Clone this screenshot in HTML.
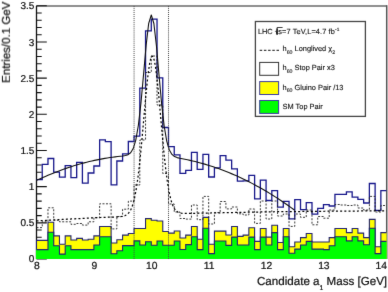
<!DOCTYPE html>
<html><head><meta charset="utf-8"><style>
html,body{margin:0;padding:0;background:#fff;width:388px;height:292px;overflow:hidden}
svg{display:block;text-rendering:geometricPrecision;will-change:transform}
</style></head><body>
<svg width="388" height="292" viewBox="0 0 388 292">
<defs><filter id="bl" x="0" y="0" width="1" height="1" color-interpolation-filters="sRGB"><feConvolveMatrix order="3" kernelMatrix="0.00524 0.06192 0.00524 0.06192 0.73137 0.06192 0.00524 0.06192 0.00524" edgeMode="duplicate" preserveAlpha="true"/></filter><clipPath id="fr"><rect x="35.8" y="5.8" width="350.80" height="253.20"/></clipPath></defs>
<g filter="url(#bl)"><rect width="388" height="292" fill="#fff"/>
<path d="M36.5,5.9 H386.70" fill="none" stroke="#6a6a6a" stroke-width="1.5"/>
<path d="M386.70,5.2 V259.0" fill="none" stroke="#555" stroke-width="1.5"/>
<path d="M36.5,259.0 V5.8" stroke="#111" stroke-width="1.3"/>
<path d="M36.50,259.00 H46.80 M36.50,251.77 H41.70 M36.50,244.53 H41.70 M36.50,237.30 H41.70 M36.50,230.06 H41.70 M36.50,222.83 H46.80 M36.50,215.60 H41.70 M36.50,208.36 H41.70 M36.50,201.13 H41.70 M36.50,193.89 H41.70 M36.50,186.66 H46.80 M36.50,179.43 H41.70 M36.50,172.19 H41.70 M36.50,164.96 H41.70 M36.50,157.72 H41.70 M36.50,150.49 H46.80 M36.50,143.26 H41.70 M36.50,136.02 H41.70 M36.50,128.79 H41.70 M36.50,121.55 H41.70 M36.50,114.32 H46.80 M36.50,107.09 H41.70 M36.50,99.85 H41.70 M36.50,92.62 H41.70 M36.50,85.38 H41.70 M36.50,78.15 H46.80 M36.50,70.92 H41.70 M36.50,63.68 H41.70 M36.50,56.45 H41.70 M36.50,49.21 H41.70 M36.50,41.98 H46.80 M36.50,34.75 H41.70 M36.50,27.51 H41.70 M36.50,20.28 H41.70 M36.50,13.04 H41.70 M36.50,5.81 H46.80" stroke="#111" stroke-width="1.1"/>
<g clip-path="url(#fr)">
<path d="M36.50,179.60 L42.24,179.60 L42.24,164.40 L47.98,164.40 L47.98,158.50 L53.72,158.50 L53.72,172.20 L59.46,172.20 L59.46,177.10 L65.20,177.10 L65.20,165.60 L70.94,165.60 L70.94,177.60 L76.68,177.60 L76.68,162.30 L82.41,162.30 L82.41,183.20 L88.15,183.20 L88.15,173.00 L93.89,173.00 L93.89,166.00 L99.63,166.00 L99.63,139.90 L105.37,139.90 L105.37,141.60 L111.11,141.60 L111.11,184.90 L116.85,184.90 L116.85,161.00 L122.59,161.00 L122.59,153.90 L128.33,153.90 L128.33,141.50 L134.07,141.50 L134.07,136.10 L139.81,136.10 L139.81,88.10 L145.55,88.10 L145.55,30.80 L151.29,30.80 L151.29,19.10 L157.03,19.10 L157.03,77.90 L162.77,77.90 L162.77,127.50 L168.50,127.50 L168.50,146.60 L174.24,146.60 L174.24,154.80 L179.98,154.80 L179.98,173.30 L185.72,173.30 L185.72,170.40 L191.46,170.40 L191.46,152.30 L197.20,152.30 L197.20,169.30 L202.94,169.30 L202.94,154.40 L208.68,154.40 L208.68,177.00 L214.42,177.00 L214.42,167.80 L220.16,167.80 L220.16,155.60 L225.90,155.60 L225.90,160.20 L231.64,160.20 L231.64,168.80 L237.38,168.80 L237.38,181.20 L243.12,181.20 L243.12,180.90 L248.86,180.90 L248.86,175.30 L254.60,175.30 L254.60,198.90 L260.33,198.90 L260.33,180.20 L266.07,180.20 L266.07,200.50 L271.81,200.50 L271.81,190.60 L277.55,190.60 L277.55,207.10 L283.29,207.10 L283.29,201.40 L289.03,201.40 L289.03,218.80 L294.77,218.80 L294.77,199.70 L300.51,199.70 L300.51,209.60 L306.25,209.60 L306.25,202.70 L311.99,202.70 L311.99,214.20 L317.73,214.20 L317.73,208.30 L323.47,208.30 L323.47,204.70 L329.21,204.70 L329.21,206.00 L334.95,206.00 L334.95,194.40 L340.69,194.40 L340.69,194.40 L346.42,194.40 L346.42,191.80 L352.16,191.80 L352.16,197.20 L357.90,197.20 L357.90,199.40 L363.64,199.40 L363.64,203.00 L369.38,203.00 L369.38,183.50 L375.12,183.50 L375.12,210.40 L380.86,210.40 L380.86,190.60 L386.60,190.60" fill="none" stroke="#16168a" stroke-width="1.3"/>
<path d="M36.50,260.00 L36.50,240.40 L42.24,240.40 L42.24,240.40 L47.98,240.40 L47.98,222.20 L53.72,222.20 L53.72,235.90 L59.46,235.90 L59.46,244.20 L65.20,244.20 L65.20,235.90 L70.94,235.90 L70.94,240.00 L76.68,240.00 L76.68,238.40 L82.41,238.40 L82.41,240.00 L88.15,240.00 L88.15,239.20 L93.89,239.20 L93.89,235.90 L99.63,235.90 L99.63,226.50 L105.37,226.50 L105.37,226.50 L111.11,226.50 L111.11,243.00 L116.85,243.00 L116.85,239.70 L122.59,239.70 L122.59,235.10 L128.33,235.10 L128.33,233.50 L134.07,233.50 L134.07,228.50 L139.81,228.50 L139.81,228.50 L145.55,228.50 L145.55,218.60 L151.29,218.60 L151.29,220.30 L157.03,220.30 L157.03,221.00 L162.77,221.00 L162.77,231.50 L168.50,231.50 L168.50,233.10 L174.24,233.10 L174.24,231.00 L179.98,231.00 L179.98,238.00 L185.72,238.00 L185.72,235.10 L191.46,235.10 L191.46,226.50 L197.20,226.50 L197.20,239.20 L202.94,239.20 L202.94,217.40 L208.68,217.40 L208.68,244.20 L214.42,244.20 L214.42,231.10 L220.16,231.10 L220.16,231.10 L225.90,231.10 L225.90,235.00 L231.64,235.00 L231.64,226.50 L237.38,226.50 L237.38,236.40 L243.12,236.40 L243.12,235.10 L248.86,235.10 L248.86,227.70 L254.60,227.70 L254.60,241.40 L260.33,241.40 L260.33,228.50 L266.07,228.50 L266.07,237.10 L271.81,237.10 L271.81,225.20 L277.55,225.20 L277.55,242.50 L283.29,242.50 L283.29,228.50 L289.03,228.50 L289.03,246.70 L294.77,246.70 L294.77,242.00 L300.51,242.00 L300.51,237.60 L306.25,237.60 L306.25,233.50 L311.99,233.50 L311.99,242.00 L317.73,242.00 L317.73,242.00 L323.47,242.00 L323.47,242.00 L329.21,242.00 L329.21,237.60 L334.95,237.60 L334.95,228.50 L340.69,228.50 L340.69,228.50 L346.42,228.50 L346.42,232.60 L352.16,232.60 L352.16,228.50 L357.90,228.50 L357.90,233.10 L363.64,233.10 L363.64,237.60 L369.38,237.60 L369.38,219.40 L375.12,219.40 L375.12,246.70 L380.86,246.70 L380.86,232.60 L386.60,232.60 L387.60,232.60 L387.60,260.00 Z" fill="#ffff00"/>
<path d="M36.5,259.0 L36.50,240.40 L42.24,240.40 L42.24,240.40 L47.98,240.40 L47.98,222.20 L53.72,222.20 L53.72,235.90 L59.46,235.90 L59.46,244.20 L65.20,244.20 L65.20,235.90 L70.94,235.90 L70.94,240.00 L76.68,240.00 L76.68,238.40 L82.41,238.40 L82.41,240.00 L88.15,240.00 L88.15,239.20 L93.89,239.20 L93.89,235.90 L99.63,235.90 L99.63,226.50 L105.37,226.50 L105.37,226.50 L111.11,226.50 L111.11,243.00 L116.85,243.00 L116.85,239.70 L122.59,239.70 L122.59,235.10 L128.33,235.10 L128.33,233.50 L134.07,233.50 L134.07,228.50 L139.81,228.50 L139.81,228.50 L145.55,228.50 L145.55,218.60 L151.29,218.60 L151.29,220.30 L157.03,220.30 L157.03,221.00 L162.77,221.00 L162.77,231.50 L168.50,231.50 L168.50,233.10 L174.24,233.10 L174.24,231.00 L179.98,231.00 L179.98,238.00 L185.72,238.00 L185.72,235.10 L191.46,235.10 L191.46,226.50 L197.20,226.50 L197.20,239.20 L202.94,239.20 L202.94,217.40 L208.68,217.40 L208.68,244.20 L214.42,244.20 L214.42,231.10 L220.16,231.10 L220.16,231.10 L225.90,231.10 L225.90,235.00 L231.64,235.00 L231.64,226.50 L237.38,226.50 L237.38,236.40 L243.12,236.40 L243.12,235.10 L248.86,235.10 L248.86,227.70 L254.60,227.70 L254.60,241.40 L260.33,241.40 L260.33,228.50 L266.07,228.50 L266.07,237.10 L271.81,237.10 L271.81,225.20 L277.55,225.20 L277.55,242.50 L283.29,242.50 L283.29,228.50 L289.03,228.50 L289.03,246.70 L294.77,246.70 L294.77,242.00 L300.51,242.00 L300.51,237.60 L306.25,237.60 L306.25,233.50 L311.99,233.50 L311.99,242.00 L317.73,242.00 L317.73,242.00 L323.47,242.00 L323.47,242.00 L329.21,242.00 L329.21,237.60 L334.95,237.60 L334.95,228.50 L340.69,228.50 L340.69,228.50 L346.42,228.50 L346.42,232.60 L352.16,232.60 L352.16,228.50 L357.90,228.50 L357.90,233.10 L363.64,233.10 L363.64,237.60 L369.38,237.60 L369.38,219.40 L375.12,219.40 L375.12,246.70 L380.86,246.70 L380.86,232.60 L386.60,232.60" fill="none" stroke="#22226e" stroke-width="1.1"/>
<path d="M35.80,260.00 L35.80,249.60 L42.24,249.60 L42.24,249.60 L47.98,249.60 L47.98,232.20 L53.72,232.20 L53.72,245.80 L59.46,245.80 L59.46,254.10 L65.20,254.10 L65.20,245.80 L70.94,245.80 L70.94,249.60 L76.68,249.60 L76.68,249.60 L82.41,249.60 L82.41,249.60 L88.15,249.60 L88.15,249.60 L93.89,249.60 L93.89,245.00 L99.63,245.00 L99.63,236.80 L105.37,236.80 L105.37,236.80 L111.11,236.80 L111.11,253.70 L116.85,253.70 L116.85,250.80 L122.59,250.80 L122.59,245.60 L128.33,245.60 L128.33,245.60 L134.07,245.60 L134.07,240.90 L139.81,240.90 L139.81,245.00 L145.55,245.00 L145.55,241.70 L151.29,241.70 L151.29,245.20 L157.03,245.20 L157.03,241.00 L162.77,241.00 L162.77,245.20 L168.50,245.20 L168.50,245.20 L174.24,245.20 L174.24,241.00 L179.98,241.00 L179.98,249.50 L185.72,249.50 L185.72,244.60 L191.46,244.60 L191.46,236.80 L197.20,236.80 L197.20,249.60 L202.94,249.60 L202.94,228.20 L208.68,228.20 L208.68,253.60 L214.42,253.60 L214.42,241.00 L220.16,241.00 L220.16,241.00 L225.90,241.00 L225.90,245.40 L231.64,245.40 L231.64,237.10 L237.38,237.10 L237.38,245.00 L243.12,245.00 L243.12,245.00 L248.86,245.00 L248.86,237.10 L254.60,237.10 L254.60,249.60 L260.33,249.60 L260.33,237.10 L266.07,237.10 L266.07,245.00 L271.81,245.00 L271.81,232.60 L277.55,232.60 L277.55,249.60 L283.29,249.60 L283.29,236.80 L289.03,236.80 L289.03,253.30 L294.77,253.30 L294.77,249.10 L300.51,249.10 L300.51,245.00 L306.25,245.00 L306.25,241.40 L311.99,241.40 L311.99,249.10 L317.73,249.10 L317.73,249.10 L323.47,249.10 L323.47,249.60 L329.21,249.60 L329.21,245.80 L334.95,245.80 L334.95,236.80 L340.69,236.80 L340.69,236.80 L346.42,236.80 L346.42,240.90 L352.16,240.90 L352.16,236.80 L357.90,236.80 L357.90,240.90 L363.64,240.90 L363.64,244.70 L369.38,244.70 L369.38,228.20 L375.12,228.20 L375.12,253.60 L380.86,253.60 L380.86,241.40 L386.60,241.40 L387.60,241.40 L387.60,260.00 Z" fill="#00ff00"/>
<path d="M36.50,249.60 L42.24,249.60 L42.24,249.60 L47.98,249.60 L47.98,232.20 L53.72,232.20 L53.72,245.80 L59.46,245.80 L59.46,254.10 L65.20,254.10 L65.20,245.80 L70.94,245.80 L70.94,249.60 L76.68,249.60 L76.68,249.60 L82.41,249.60 L82.41,249.60 L88.15,249.60 L88.15,249.60 L93.89,249.60 L93.89,245.00 L99.63,245.00 L99.63,236.80 L105.37,236.80 L105.37,236.80 L111.11,236.80 L111.11,253.70 L116.85,253.70 L116.85,250.80 L122.59,250.80 L122.59,245.60 L128.33,245.60 L128.33,245.60 L134.07,245.60 L134.07,240.90 L139.81,240.90 L139.81,245.00 L145.55,245.00 L145.55,241.70 L151.29,241.70 L151.29,245.20 L157.03,245.20 L157.03,241.00 L162.77,241.00 L162.77,245.20 L168.50,245.20 L168.50,245.20 L174.24,245.20 L174.24,241.00 L179.98,241.00 L179.98,249.50 L185.72,249.50 L185.72,244.60 L191.46,244.60 L191.46,236.80 L197.20,236.80 L197.20,249.60 L202.94,249.60 L202.94,228.20 L208.68,228.20 L208.68,253.60 L214.42,253.60 L214.42,241.00 L220.16,241.00 L220.16,241.00 L225.90,241.00 L225.90,245.40 L231.64,245.40 L231.64,237.10 L237.38,237.10 L237.38,245.00 L243.12,245.00 L243.12,245.00 L248.86,245.00 L248.86,237.10 L254.60,237.10 L254.60,249.60 L260.33,249.60 L260.33,237.10 L266.07,237.10 L266.07,245.00 L271.81,245.00 L271.81,232.60 L277.55,232.60 L277.55,249.60 L283.29,249.60 L283.29,236.80 L289.03,236.80 L289.03,253.30 L294.77,253.30 L294.77,249.10 L300.51,249.10 L300.51,245.00 L306.25,245.00 L306.25,241.40 L311.99,241.40 L311.99,249.10 L317.73,249.10 L317.73,249.10 L323.47,249.10 L323.47,249.60 L329.21,249.60 L329.21,245.80 L334.95,245.80 L334.95,236.80 L340.69,236.80 L340.69,236.80 L346.42,236.80 L346.42,240.90 L352.16,240.90 L352.16,236.80 L357.90,236.80 L357.90,240.90 L363.64,240.90 L363.64,244.70 L369.38,244.70 L369.38,228.20 L375.12,228.20 L375.12,253.60 L380.86,253.60 L380.86,241.40 L386.60,241.40" fill="none" stroke="#22226e" stroke-width="1.1"/>
<path d="M36.50,227.60 L42.24,227.60 L42.24,221.80 L47.98,221.80 L47.98,207.80 L53.72,207.80 L53.72,220.20 L59.46,220.20 L59.46,221.80 L65.20,221.80 L65.20,221.80 L70.94,221.80 L70.94,224.30 L76.68,224.30 L76.68,223.50 L82.41,223.50 L82.41,225.10 L88.15,225.10 L88.15,221.80 L93.89,221.80 L93.89,217.70 L99.63,217.70 L99.63,203.80 L105.37,203.80 L105.37,203.80 L111.11,203.80 L111.11,228.90 L116.85,228.90 L116.85,216.50 L122.59,216.50 L122.59,209.20 L128.33,209.20 L128.33,201.10 L134.07,201.10 L134.07,185.00 L139.81,185.00 L139.81,140.00 L145.55,140.00 L145.55,72.50 L151.29,72.50 L151.29,56.00 L157.03,56.00 L157.03,105.00 L162.77,105.00 L162.77,173.50 L168.50,173.50 L168.50,204.00 L174.24,204.00 L174.24,212.00 L179.98,212.00 L179.98,218.50 L185.72,218.50 L185.72,219.10 L191.46,219.10 L191.46,205.00 L197.20,205.00 L197.20,219.70 L202.94,219.70 L202.94,196.40 L208.68,196.40 L208.68,224.00 L214.42,224.00 L214.42,212.60 L220.16,212.60 L220.16,201.50 L225.90,201.50 L225.90,208.90 L231.64,208.90 L231.64,207.00 L237.38,207.00 L237.38,213.80 L243.12,213.80 L243.12,215.00 L248.86,215.00 L248.86,209.00 L254.60,209.00 L254.60,223.40 L260.33,223.40 L260.33,201.00 L266.07,201.00 L266.07,219.00 L271.81,219.00 L271.81,201.00 L277.55,201.00 L277.55,216.00 L283.29,216.00 L283.29,214.00 L289.03,214.00 L289.03,226.40 L294.77,226.40 L294.77,214.00 L300.51,214.00 L300.51,217.30 L306.25,217.30 L306.25,210.00 L311.99,210.00 L311.99,224.80 L317.73,224.80 L317.73,216.50 L323.47,216.50 L323.47,218.20 L329.21,218.20 L329.21,210.00 L334.95,210.00 L334.95,204.50 L340.69,204.50 L340.69,205.00 L346.42,205.00 L346.42,205.50 L352.16,205.50 L352.16,205.00 L357.90,205.00 L357.90,208.00 L363.64,208.00 L363.64,210.00 L369.38,210.00 L369.38,196.40 L375.12,196.40 L375.12,212.00 L380.86,212.00 L380.86,205.50 L386.60,205.50" fill="none" stroke="#222" stroke-width="0.9" stroke-dasharray="2,1.5"/>
<path d="M36.50,221.00 L37.67,220.93 L38.83,220.86 L40.00,220.79 L41.17,220.72 L42.33,220.66 L43.50,220.59 L44.67,220.52 L45.84,220.45 L47.00,220.38 L48.17,220.31 L49.34,220.24 L50.50,220.17 L51.67,220.10 L52.84,220.04 L54.00,219.97 L55.17,219.90 L56.34,219.83 L57.51,219.76 L58.67,219.69 L59.84,219.62 L61.01,219.55 L62.17,219.48 L63.34,219.42 L64.51,219.35 L65.67,219.28 L66.84,219.21 L68.01,219.15 L69.18,219.09 L70.34,219.03 L71.51,218.97 L72.68,218.91 L73.84,218.85 L75.01,218.79 L76.18,218.73 L77.34,218.67 L78.51,218.61 L79.68,218.55 L80.85,218.49 L82.01,218.43 L83.18,218.36 L84.35,218.30 L85.51,218.24 L86.68,218.18 L87.85,218.12 L89.01,218.06 L90.18,218.00 L91.35,217.94 L92.52,217.88 L93.68,217.82 L94.85,217.76 L96.02,217.70 L97.18,217.64 L98.35,217.59 L99.52,217.54 L100.68,217.50 L101.85,217.46 L103.02,217.42 L104.19,217.38 L105.35,217.33 L106.52,217.29 L107.69,217.25 L108.85,217.20 L110.02,217.16 L111.19,217.12 L112.36,217.08 L113.52,217.03 L114.69,216.98 L115.86,216.93 L117.02,216.88 L118.19,216.81 L119.36,216.74 L120.52,216.62 L121.69,216.47 L122.86,216.25 L124.03,215.95 L125.19,215.54 L126.36,214.94 L127.53,214.11 L128.69,212.96 L129.86,211.37 L131.03,209.23 L132.19,206.39 L133.36,202.72 L134.53,198.04 L135.70,192.22 L136.86,185.15 L138.03,176.76 L139.20,167.04 L140.36,156.08 L141.53,144.03 L142.70,131.19 L143.86,117.93 L145.03,104.72 L146.20,92.08 L147.37,80.59 L148.53,70.79 L149.70,63.18 L150.87,58.17 L152.03,56.03 L153.20,56.88 L154.37,60.66 L155.53,67.16 L156.70,76.04 L157.87,86.81 L159.04,98.94 L160.20,111.87 L161.37,125.05 L162.54,137.98 L163.70,150.25 L164.87,161.55 L166.04,171.65 L167.20,180.45 L168.37,187.91 L169.54,194.08 L170.71,199.07 L171.87,203.00 L173.04,206.03 L174.21,208.30 L175.37,209.97 L176.54,211.15 L177.71,211.98 L178.87,212.54 L180.04,212.89 L181.21,213.12 L182.38,213.27 L183.54,213.37 L184.71,213.42 L185.88,213.44 L187.04,213.44 L188.21,213.43 L189.38,213.42 L190.54,213.40 L191.71,213.38 L192.88,213.36 L194.04,213.33 L195.21,213.31 L196.38,213.29 L197.55,213.26 L198.71,213.24 L199.88,213.21 L201.05,213.19 L202.21,213.17 L203.38,213.14 L204.55,213.12 L205.72,213.10 L206.88,213.07 L208.05,213.05 L209.22,213.02 L210.38,213.00 L211.55,212.98 L212.72,212.95 L213.88,212.93 L215.05,212.91 L216.22,212.88 L217.39,212.86 L218.55,212.83 L219.72,212.81 L220.89,212.79 L222.05,212.76 L223.22,212.74 L224.39,212.71 L225.55,212.69 L226.72,212.67 L227.89,212.64 L229.06,212.62 L230.22,212.60 L231.39,212.57 L232.56,212.55 L233.72,212.53 L234.89,212.50 L236.06,212.48 L237.22,212.46 L238.39,212.43 L239.56,212.41 L240.73,212.39 L241.89,212.36 L243.06,212.34 L244.23,212.32 L245.39,212.29 L246.56,212.27 L247.73,212.25 L248.89,212.22 L250.06,212.20 L251.23,212.18 L252.40,212.15 L253.56,212.13 L254.73,212.11 L255.90,212.08 L257.06,212.06 L258.23,212.04 L259.40,212.01 L260.56,211.99 L261.73,211.97 L262.90,211.94 L264.07,211.92 L265.23,211.90 L266.40,211.87 L267.57,211.85 L268.73,211.83 L269.90,211.80 L271.07,211.79 L272.23,211.78 L273.40,211.77 L274.57,211.75 L275.74,211.74 L276.90,211.73 L278.07,211.72 L279.24,211.71 L280.40,211.70 L281.57,211.68 L282.74,211.67 L283.90,211.66 L285.07,211.65 L286.24,211.64 L287.40,211.63 L288.57,211.61 L289.74,211.60 L290.91,211.59 L292.07,211.58 L293.24,211.57 L294.41,211.56 L295.57,211.54 L296.74,211.53 L297.91,211.52 L299.07,211.51 L300.24,211.50 L301.41,211.49 L302.58,211.47 L303.74,211.46 L304.91,211.45 L306.08,211.44 L307.24,211.43 L308.41,211.42 L309.58,211.40 L310.75,211.39 L311.91,211.38 L313.08,211.37 L314.25,211.36 L315.41,211.35 L316.58,211.33 L317.75,211.32 L318.91,211.31 L320.08,211.30 L321.25,211.29 L322.41,211.28 L323.58,211.26 L324.75,211.25 L325.92,211.24 L327.08,211.23 L328.25,211.22 L329.42,211.21 L330.58,211.20 L331.75,211.19 L332.92,211.18 L334.08,211.17 L335.25,211.16 L336.42,211.15 L337.59,211.15 L338.75,211.14 L339.92,211.13 L341.09,211.12 L342.25,211.11 L343.42,211.11 L344.59,211.10 L345.75,211.09 L346.92,211.08 L348.09,211.07 L349.26,211.06 L350.42,211.06 L351.59,211.05 L352.76,211.04 L353.92,211.03 L355.09,211.02 L356.26,211.02 L357.42,211.01 L358.59,211.00 L359.76,210.99 L360.93,210.98 L362.09,210.97 L363.26,210.97 L364.43,210.96 L365.59,210.95 L366.76,210.94 L367.93,210.93 L369.10,210.93 L370.26,210.92 L371.43,210.91 L372.60,210.90 L373.76,210.89 L374.93,210.88 L376.10,210.88 L377.26,210.87 L378.43,210.86 L379.60,210.85 L380.77,210.84 L381.93,210.84 L383.10,210.83 L384.27,210.82 L385.43,210.81 L386.60,210.80" fill="none" stroke="#000" stroke-width="1.25" stroke-dasharray="2,2.2"/>
<path d="M36.50,180.40 L37.65,179.87 L40.23,178.68 L42.81,177.52 L45.40,176.39 L47.98,175.29 L50.56,174.21 L53.14,173.17 L55.73,172.15 L58.31,171.17 L60.89,170.21 L63.47,169.28 L66.06,168.38 L68.64,167.51 L71.22,166.67 L73.81,165.85 L76.39,165.07 L78.97,164.31 L81.55,163.59 L84.14,162.89 L86.72,162.23 L89.30,161.59 L91.88,160.99 L94.47,160.41 L97.05,159.86 L99.63,159.34 L102.22,158.85 L104.80,158.40 L107.38,157.97 L109.96,157.57 L112.55,157.20 L115.13,156.86 L117.71,156.55 L120.29,156.26 L122.88,155.95 L125.46,155.52 L128.04,154.68 L130.63,152.78 L133.21,148.55 L135.79,140.07 L138.37,125.24 L140.96,102.93 L143.54,74.67 L146.12,45.56 L148.70,23.29 L151.29,14.97 L153.87,23.50 L156.45,45.98 L159.04,75.29 L161.62,103.76 L164.20,126.28 L166.78,141.32 L169.37,150.00 L171.95,154.44 L174.53,156.56 L177.11,157.61 L179.70,158.25 L182.28,158.77 L184.86,159.28 L187.44,159.81 L190.03,160.37 L192.61,160.96 L195.19,161.58 L197.78,162.23 L200.36,162.92 L202.94,163.63 L205.52,164.38 L208.11,165.16 L210.69,165.97 L213.27,166.82 L215.85,167.69 L218.44,168.60 L221.02,169.54 L223.60,170.52 L226.19,171.52 L228.77,172.56 L231.35,173.63 L233.93,174.74 L236.52,175.87 L239.10,177.04 L241.68,178.24 L244.26,179.48 L246.85,180.75 L249.43,182.05 L252.01,183.38 L254.60,184.75 L257.18,186.15 L259.76,187.58 L262.34,189.04 L264.93,190.54 L267.51,192.07 L270.09,193.64 L272.67,195.24 L275.26,196.87 L277.84,198.54 L280.42,200.24 L283.00,201.97 L285.59,203.74 L288.17,205.54 L290.75,207.37 L293.34,209.24 L294.77,210.29" fill="none" stroke="#111" stroke-width="1.1" stroke-linejoin="round"/>
<path d="M134.07,5.8 V259 M168.50,5.8 V259" stroke="#444" stroke-width="1" stroke-dasharray="1,1.05"/>
</g>
<g font-family="Liberation Sans, sans-serif" font-size="10.3" fill="#111" stroke="#111" stroke-width="0.22">
<text x="34.4" y="261.60" text-anchor="end" font-size="10">0</text><text x="34.4" y="226.43" text-anchor="end" font-size="10">0.5</text><text x="34.4" y="190.26" text-anchor="end" font-size="10">1</text><text x="34.4" y="154.09" text-anchor="end" font-size="10">1.5</text><text x="34.4" y="117.92" text-anchor="end" font-size="10">2</text><text x="34.4" y="81.75" text-anchor="end" font-size="10">2.5</text><text x="34.4" y="45.58" text-anchor="end" font-size="10">3</text><text x="34.4" y="9.41" text-anchor="end" font-size="10">3.5</text>
<text x="36.90" y="268.6" text-anchor="middle">8</text><text x="94.29" y="268.6" text-anchor="middle">9</text><text x="151.69" y="268.6" text-anchor="middle">10</text><text x="209.08" y="268.6" text-anchor="middle">11</text><text x="266.47" y="268.6" text-anchor="middle">12</text><text x="323.87" y="268.6" text-anchor="middle">13</text><text x="381.26" y="268.6" text-anchor="middle">14</text>
<text x="257.0" y="284.5" font-size="11.6">Candidate a<tspan font-size="6.8" dy="5.0">1</tspan><tspan dy="-5.0"> Mass [GeV]</tspan></text>
<text transform="translate(9.9,1.6) rotate(-90)" text-anchor="end" font-size="11.5">Entries/0.1 GeV</text>
</g>
<g>
<rect x="255.4" y="21.5" width="110" height="94.9" fill="#fff" stroke="#444" stroke-width="1.3"/>
<g font-family="Liberation Sans, sans-serif" font-size="7.4" fill="#111" stroke="#111" stroke-width="0.12">
<text x="257.9" y="34.4">LHC</text>
<path d="M275.3,31.6 L276.1,30.8 L277.1,34.6 L277.1,27.5 L282.6,27.5" fill="none" stroke="#111" stroke-width="0.8"/>
<path d="M277.1,28.6 V34.6" stroke="#111" stroke-width="1.3"/>
<text x="278.3" y="34.4" letter-spacing="0.1">s=7 TeV,L=4.7 fb<tspan font-size="4.8" dy="-3.4">-1</tspan></text>
<path d="M259.7,50.3 H279.3" stroke="#111" stroke-width="1" stroke-dasharray="2.5,1.7"/>
<text x="282.6" y="51.2">h<tspan font-size="5.2" dy="2.6">60</tspan><tspan dy="-2.6"> Longlived χ</tspan><tspan font-size="5.2" dy="2.6">2</tspan></text>
<rect x="259.7" y="62.4" width="18.9" height="12.9" fill="#fff" stroke="#333" stroke-width="1"/>
<text x="282.6" y="70.4">h<tspan font-size="5.2" dy="2.6">60</tspan><tspan dy="-2.6"> Stop Pair x3</tspan></text>
<rect x="259.7" y="81.6" width="18.9" height="12.9" fill="#ffff00" stroke="#3a3aa0" stroke-width="1"/>
<text x="282.6" y="89.5">h<tspan font-size="5.2" dy="2.6">60</tspan><tspan dy="-2.6"> Gluino Pair /13</tspan></text>
<rect x="259.7" y="100.5" width="18.9" height="12.9" fill="#00ff00" stroke="#3a3aa0" stroke-width="1"/>
<text x="282.6" y="109.3">SM Top Pair</text>
</g>
</g>
</g>
</svg>
</body></html>
